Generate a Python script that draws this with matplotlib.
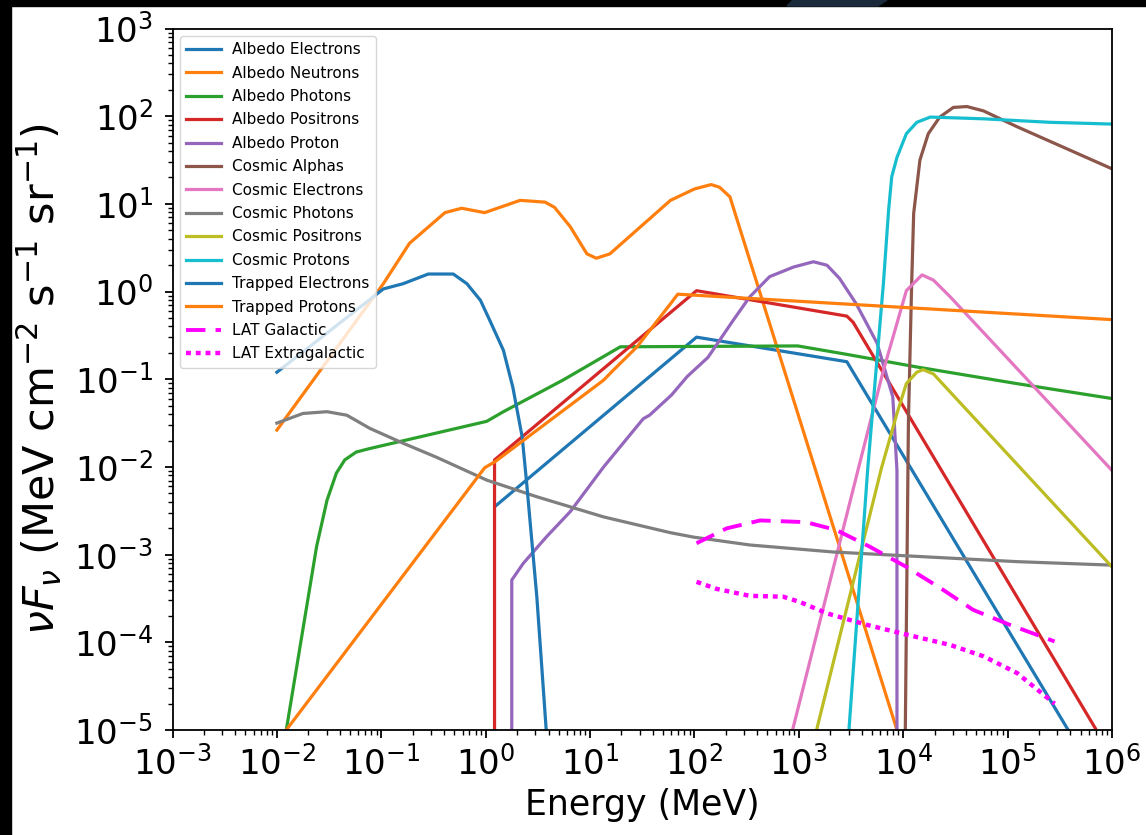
import matplotlib.pyplot as plt
import matplotlib.patches as mpatches
from matplotlib.ticker import LogLocator, NullFormatter
import numpy as np

# values: log10(E / MeV) and log10(nuF_nu)
albedo_electrons_logE = [0.10, 2.02, 3.46, 5.58]
albedo_electrons_logF = [-2.44, -0.52, -0.80, -5.0]

albedo_neutrons_logE = [-2.00, -0.98, -0.73, -0.39, -0.23, -0.01, 0.33, 0.57, 0.66, 0.81,
                        0.97, 1.06, 1.19, 1.77, 2.00, 2.16, 2.24, 2.34, 3.94]
albedo_neutrons_logF = [-1.58, 0.09, 0.55, 0.90, 0.95, 0.90, 1.04, 1.02, 0.96, 0.74,
                        0.43, 0.38, 0.43, 1.04, 1.17, 1.22, 1.19, 1.08, -5.0]

albedo_photons_logE = [-1.91, -1.62, -1.52, -1.43, -1.35, -1.24, -1.11, 0.01, 0.17,
                       0.74, 1.29, 2.99, 3.43, 4.13, 5.09, 6.0]
albedo_photons_logF = [-5.0, -2.91, -2.38, -2.07, -1.92, -1.83, -1.79, -1.48, -1.37,
                       -1.01, -0.63, -0.62, -0.71, -0.86, -1.05, -1.22]

albedo_positrons_logE = [0.085, 0.085, 2.02, 3.46, 3.52, 5.84]
albedo_positrons_logF = [-5.0, -1.92, 0.01, -0.28, -0.35, -4.98]

albedo_proton_logE = [0.25, 0.25, 0.36, 0.58, 0.81, 1.13, 1.51, 1.57, 1.78, 1.93, 2.13, 2.37,
                      2.53, 2.72, 2.95, 3.14, 3.27, 3.39, 3.55, 3.75, 3.90, 3.94, 3.94]
albedo_proton_logF = [-5.0, -3.29, -3.10, -2.80, -2.51, -2.00, -1.45, -1.41, -1.18, -0.97, -0.75,
                      -0.33, -0.06, 0.17, 0.28, 0.34, 0.30, 0.15, -0.14, -0.59, -1.20, -2.04, -5.0]

cosmic_alphas_logE = [4.02, 4.05, 4.08, 4.10, 4.16, 4.24, 4.35, 4.48, 4.61, 4.77, 5.09, 6.0]
cosmic_alphas_logF = [-5.0, -1.47, 0.05, 0.89, 1.50, 1.80, 1.99, 2.10, 2.11, 2.06, 1.88, 1.40]

cosmic_electrons_logE = [2.94, 3.57, 3.81, 4.03, 4.18, 4.29, 4.45, 6.0]
cosmic_electrons_logF = [-5.0, -2.02, -0.90, 0.01, 0.19, 0.13, -0.06, -2.04]

cosmic_photons_logE = [-2.00, -1.75, -1.52, -1.33, -1.11, -0.79, -0.47, 0.01, 0.49, 1.13,
                       1.77, 1.99, 2.53, 3.33, 4.13, 5.09, 6.0]
cosmic_photons_logF = [-1.50, -1.39, -1.37, -1.41, -1.56, -1.73, -1.89, -2.15, -2.34, -2.57,
                       -2.75, -2.80, -2.89, -2.97, -3.02, -3.08, -3.12]

cosmic_positrons_logE = [3.17, 3.79, 3.94, 4.03, 4.13, 4.19, 4.29, 6.0]
cosmic_positrons_logF = [-5.0, -2.02, -1.39, -1.05, -0.92, -0.89, -0.94, -3.14]

cosmic_protons_logE = [3.48, 3.66, 3.78, 3.81, 3.86, 3.89, 3.94, 4.03, 4.13, 4.26, 4.77, 5.41, 6.0]
cosmic_protons_logF = [-5.0, -2.02, -0.33, 0.09, 0.93, 1.31, 1.53, 1.80, 1.93, 1.99, 1.97, 1.93, 1.91]

trapped_electrons_logE = [-2.00, -0.98, -0.79, -0.55, -0.31, -0.18, -0.05, 0.04, 0.17, 0.26,
                          0.35, 0.39, 0.49, 0.58]
trapped_electrons_logF = [-0.92, 0.03, 0.09, 0.20, 0.20, 0.09, -0.10, -0.33, -0.67, -1.09,
                          -1.66, -2.15, -3.48, -5.0]

trapped_protons_logE = [-1.91, -0.01, 0.09, 1.13, 1.22, 1.45, 1.77, 1.84, 6.0]
trapped_protons_logF = [-5.0, -2.01, -1.94, -1.01, -0.90, -0.63, -0.14, -0.03, -0.32]

lat_galactic_logE = [2.02, 2.31, 2.63, 3.07, 3.36, 3.68, 4.03, 4.38, 4.67, 5.02, 5.45]
lat_galactic_logF = [-2.87, -2.70, -2.61, -2.63, -2.72, -2.91, -3.14, -3.40, -3.63, -3.80, -3.99]

lat_extragalactic_logE = [2.02, 2.21, 2.53, 2.85, 3.01, 3.27, 3.65, 4.06, 4.45, 4.77, 5.09, 5.45]
lat_extragalactic_logF = [-3.31, -3.39, -3.47, -3.48, -3.54, -3.67, -3.80, -3.92, -4.03, -4.16,
                          -4.35, -4.70]

series = [
    ("Albedo Electrons", albedo_electrons_logE, albedo_electrons_logF),
    ("Albedo Neutrons", albedo_neutrons_logE, albedo_neutrons_logF),
    ("Albedo Photons", albedo_photons_logE, albedo_photons_logF),
    ("Albedo Positrons", albedo_positrons_logE, albedo_positrons_logF),
    ("Albedo Proton", albedo_proton_logE, albedo_proton_logF),
    ("Cosmic Alphas", cosmic_alphas_logE, cosmic_alphas_logF),
    ("Cosmic Electrons", cosmic_electrons_logE, cosmic_electrons_logF),
    ("Cosmic Photons", cosmic_photons_logE, cosmic_photons_logF),
    ("Cosmic Positrons", cosmic_positrons_logE, cosmic_positrons_logF),
    ("Cosmic Protons", cosmic_protons_logE, cosmic_protons_logF),
    ("Trapped Electrons", trapped_electrons_logE, trapped_electrons_logF),
    ("Trapped Protons", trapped_protons_logE, trapped_protons_logF),
]


def main():
    fig = plt.figure(figsize=(11.46, 8.35), dpi=100)
    ax = fig.add_axes([172.5 / 1146, 105 / 835, 939.5 / 1146, 701.5 / 835])

    colors = plt.rcParams['axes.prop_cycle'].by_key()['color']
    for i, (name, le, lf) in enumerate(series):
        ax.plot(10.0 ** np.array(le), 10.0 ** np.array(lf), color=colors[i % 10],
                lw=2.3, label=name)
    ax.plot(10.0 ** np.array(lat_galactic_logE), 10.0 ** np.array(lat_galactic_logF),
            color='magenta', lw=2.8, dashes=(5, 2.6), label='LAT Galactic')
    ax.plot(10.0 ** np.array(lat_extragalactic_logE), 10.0 ** np.array(lat_extragalactic_logF),
            color='magenta', lw=3.2, dashes=(1.1, 1.1), label='LAT Extragalactic')

    ax.set_xscale('log')
    ax.set_yscale('log')
    ax.set_xlim(1e-3, 1e6)
    ax.set_ylim(1e-5, 1e3)
    ax.set_xticks(10.0 ** np.arange(-3, 7))
    ax.set_yticks(10.0 ** np.arange(-5, 4))
    ax.xaxis.set_minor_locator(LogLocator(base=10, subs=np.arange(2, 10), numticks=100))
    ax.yaxis.set_minor_locator(LogLocator(base=10, subs=np.arange(2, 10), numticks=100))
    ax.xaxis.set_minor_formatter(NullFormatter())
    ax.yaxis.set_minor_formatter(NullFormatter())
    ax.tick_params(which='major', labelsize=24.5, length=6, width=1.3)
    ax.tick_params(axis='y', which='major', pad=8)
    ax.tick_params(axis='x', which='major', pad=5)
    ax.tick_params(which='minor', length=3.5, width=1.0)
    for sp in ax.spines.values():
        sp.set_linewidth(1.3)

    ax.set_xlabel('Energy (MeV)', fontsize=25, labelpad=5)
    ax.set_ylabel(r'$\nu F_\nu$ (MeV cm$^{-2}$ s$^{-1}$ sr$^{-1}$)', fontsize=31, labelpad=7)

    ax.legend(loc='upper left', fontsize=11, labelspacing=0.55, handlelength=2.3,
              handletextpad=0.7, borderaxespad=0.5)

    # screenshot border
    fig.patches.append(mpatches.Rectangle((0, 1 - 6 / 835), 1, 6 / 835, transform=fig.transFigure,
                                          color='black', zorder=10))
    fig.patches.append(mpatches.Rectangle((0, 0), 11 / 1146, 1, transform=fig.transFigure,
                                          color='black', zorder=10))
    fig.patches.append(mpatches.Polygon([(793 / 1146, 1), (887 / 1146, 1), (878 / 1146, 1 - 6 / 835),
                                         (787 / 1146, 1 - 6 / 835)], closed=True,
                                        transform=fig.transFigure, color='#1c2b3b', zorder=11))

    fig.savefig('out.png', dpi=100)
    plt.close(fig)


if __name__ == "__main__":
    main()
